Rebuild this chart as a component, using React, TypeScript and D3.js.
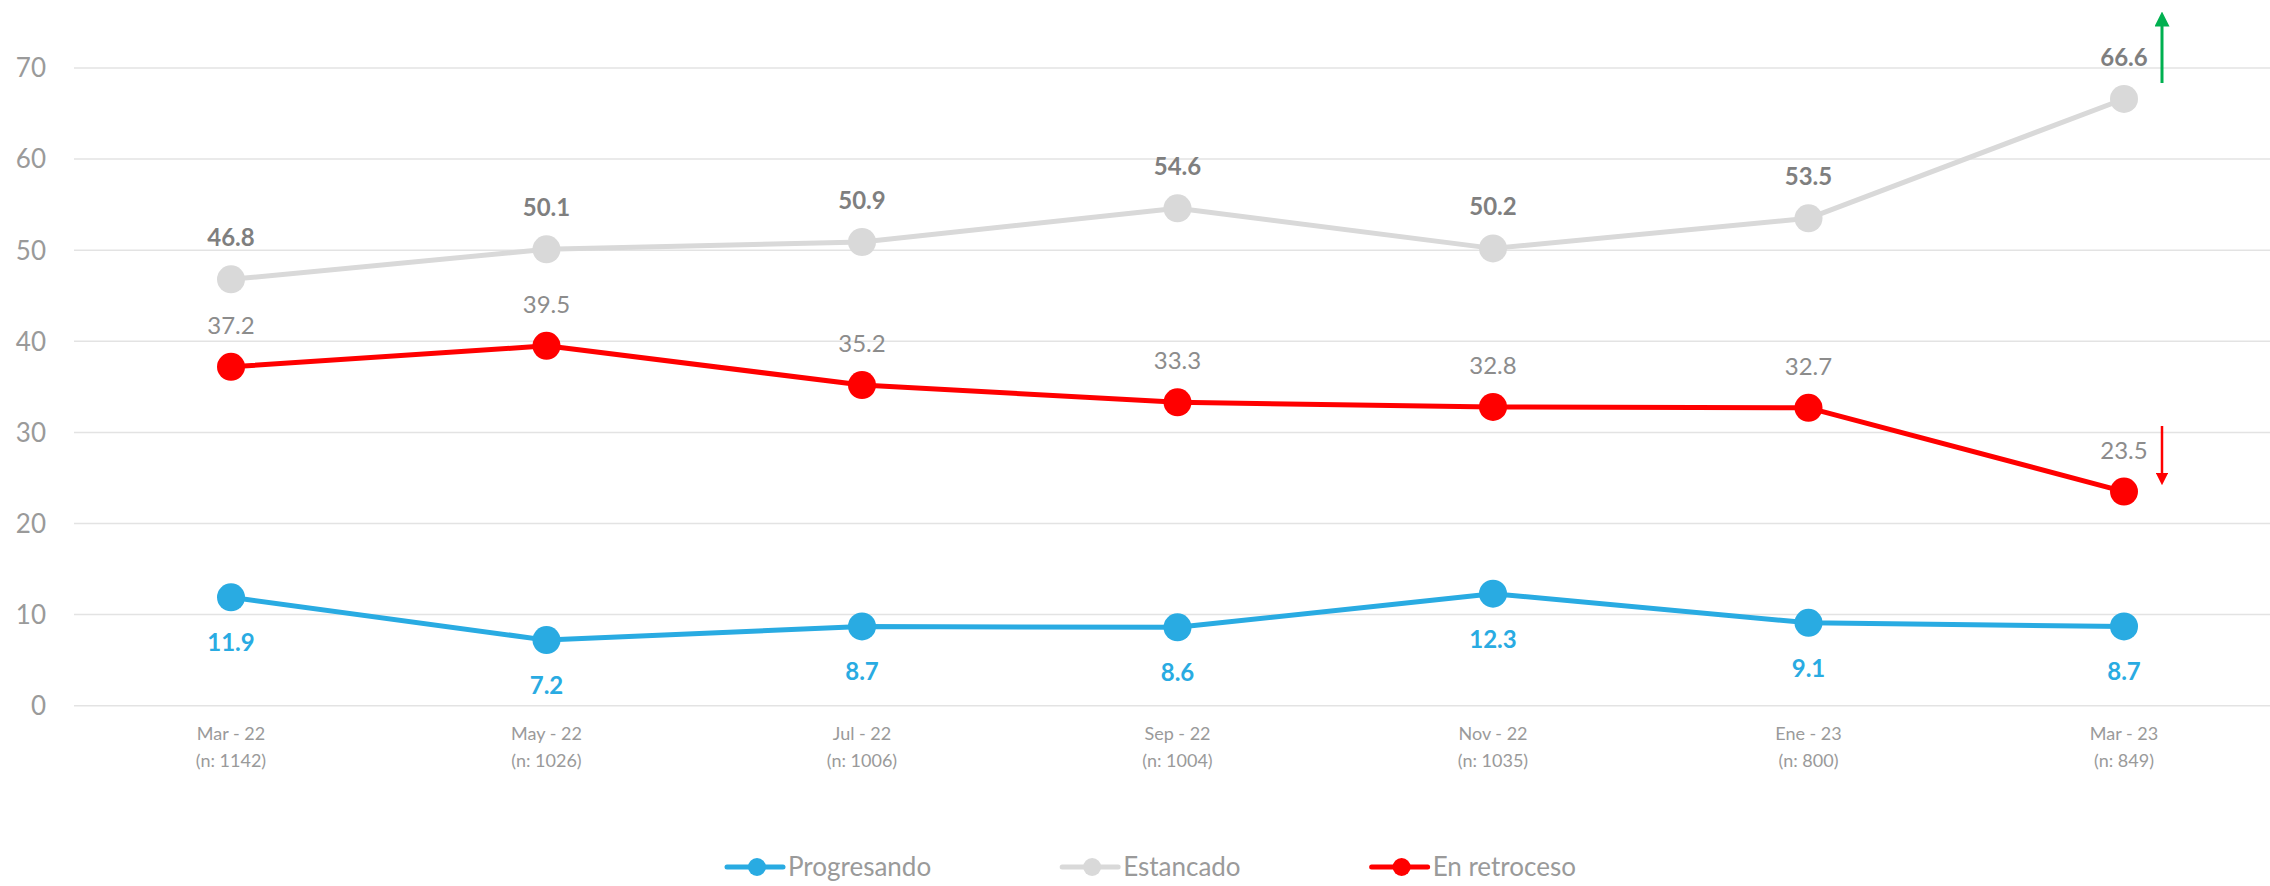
import React, { useEffect, useRef } from "react";
import * as d3 from "d3";

// Categories (two-line tick labels)
const periods = ["Mar - 22", "May - 22", "Jul - 22", "Sep - 22", "Nov - 22", "Ene - 23", "Mar - 23"];
const sampleSizes = ["(n: 1142)", "(n: 1026)", "(n: 1006)", "(n: 1004)", "(n: 1035)", "(n: 800)", "(n: 849)"];

// Series values
const progresando = [11.9, 7.2, 8.7, 8.6, 12.3, 9.1, 8.7];
const estancado = [46.8, 50.1, 50.9, 54.6, 50.2, 53.5, 66.6];
const retroceso = [37.2, 39.5, 35.2, 33.3, 32.8, 32.7, 23.5];

const yTicks = [0, 10, 20, 30, 40, 50, 60, 70];

interface Series {
  name: string;
  values: number[];
  color: string;
  labelColor: string;
  labelWeight: string;
  labelDy: number;
}

const series: Series[] = [
  { name: "Estancado", values: estancado, color: "#D9D9D9", labelColor: "#7F7F7F", labelWeight: "bold", labelDy: -33 },
  { name: "En retroceso", values: retroceso, color: "#FF0000", labelColor: "#8C8C8C", labelWeight: "normal", labelDy: -33 },
  { name: "Progresando", values: progresando, color: "#29ABE2", labelColor: "#29ABE2", labelWeight: "bold", labelDy: 54 },
];

const legendOrder = ["Progresando", "Estancado", "En retroceso"];

const FONT = "Lato, 'Open Sans', sans-serif";

const App: React.FC = () => {
  const svgRef = useRef<SVGSVGElement | null>(null);

  useEffect(() => {
    if (!svgRef.current) return;
    const svg = d3.select(svgRef.current);
    svg.selectAll("*").remove();

    const width = 2270;
    const x = d3
      .scalePoint<string>()
      .domain(periods)
      .range([231, 2124]);
    const y = d3.scaleLinear().domain([0, 70]).range([705.7, 68]);

    // Gridlines
    svg
      .append("g")
      .selectAll("line")
      .data(yTicks)
      .enter()
      .append("line")
      .attr("x1", 74)
      .attr("x2", width)
      .attr("y1", (d) => y(d))
      .attr("y2", (d) => y(d))
      .attr("stroke", "#E3E3E3")
      .attr("stroke-width", 1.5);

    // Y tick labels
    svg
      .append("g")
      .selectAll("text")
      .data(yTicks)
      .enter()
      .append("text")
      .attr("x", 46)
      .attr("y", (d) => y(d))
      .attr("dy", "0.36em")
      .attr("text-anchor", "end")
      .attr("font-family", FONT)
      .attr("font-size", 26)
      .attr("fill", "#9A9A9A")
      .text((d) => d.toString());

    // X tick labels
    const xg = svg.append("g");
    periods.forEach((p, i) => {
      const t = xg
        .append("text")
        .attr("text-anchor", "middle")
        .attr("font-family", FONT)
        .attr("font-size", 18)
        .attr("fill", "#9A9A9A");
      t.append("tspan").attr("x", x(p)!).attr("y", 740).text(p);
      t.append("tspan").attr("x", x(p)!).attr("y", 767).text(sampleSizes[i]);
    });

    // Lines, markers, labels
    series.forEach((s) => {
      const pts = s.values.map((v, i) => ({ p: periods[i], v }));
      const line = d3
        .line<{ p: string; v: number }>()
        .x((d) => x(d.p)!)
        .y((d) => y(d.v));
      const g = svg.append("g");
      g.append("path")
        .datum(pts)
        .attr("fill", "none")
        .attr("stroke", s.color)
        .attr("stroke-width", 5)
        .attr("stroke-linejoin", "round")
        .attr("d", line);
      g.selectAll("circle")
        .data(pts)
        .enter()
        .append("circle")
        .attr("cx", (d) => x(d.p)!)
        .attr("cy", (d) => y(d.v))
        .attr("r", 14)
        .attr("fill", s.color);
      g.selectAll("text")
        .data(pts)
        .enter()
        .append("text")
        .attr("x", (d) => x(d.p)!)
        .attr("y", (d) => y(d.v) + s.labelDy)
        .attr("text-anchor", "middle")
        .attr("font-family", FONT)
        .attr("font-size", 24)
        .attr("font-weight", s.labelWeight)
        .attr("fill", s.labelColor)
        .text((d) => d.v.toFixed(1));
    });

    // Trend arrows at last point
    const defs = svg.append("defs");
    const addHead = (id: string, color: string) =>
      defs
        .append("marker")
        .attr("id", id)
        .attr("viewBox", "0 0 10 10")
        .attr("refX", 5)
        .attr("refY", 5)
        .attr("markerWidth", 5)
        .attr("markerHeight", 5)
        .attr("markerUnits", "strokeWidth")
        .attr("orient", "auto")
        .append("path")
        .attr("d", "M0,0 L10,5 L0,10 Z")
        .attr("fill", color);
    addHead("headGreen", "#00B050");
    addHead("headRed", "#FF0000");
    const ax = x(periods[periods.length - 1])! + 38;
    svg
      .append("line")
      .attr("x1", ax)
      .attr("x2", ax)
      .attr("y1", 83)
      .attr("y2", 19)
      .attr("stroke", "#00B050")
      .attr("stroke-width", 3)
      .attr("marker-end", "url(#headGreen)");
    svg
      .append("line")
      .attr("x1", ax)
      .attr("x2", ax)
      .attr("y1", 426)
      .attr("y2", 479)
      .attr("stroke", "#FF0000")
      .attr("stroke-width", 2.5)
      .attr("marker-end", "url(#headRed)");

    // Legend
    const legend = svg.append("g");
    let lx = 727;
    const ly = 867;
    legendOrder.forEach((name) => {
      const s = series.find((d) => d.name === name)!;
      legend
        .append("line")
        .attr("x1", lx)
        .attr("x2", lx + 56)
        .attr("y1", ly)
        .attr("y2", ly)
        .attr("stroke", s.color)
        .attr("stroke-width", 5)
        .attr("stroke-linecap", "round");
      legend
        .append("circle")
        .attr("cx", lx + 30)
        .attr("cy", ly)
        .attr("r", 9)
        .attr("fill", s.color);
      const t = legend
        .append("text")
        .attr("x", lx + 61)
        .attr("y", ly)
        .attr("dy", "0.36em")
        .attr("font-family", FONT)
        .attr("font-size", 26)
        .attr("fill", "#9A9A9A")
        .text(name);
      const w = (t.node() as SVGTextElement).getComputedTextLength();
      lx += 61 + w + 131;
    });
  }, []);

  return (
    <div style={{ position: "absolute", left: 0, top: 0, width: 2270, height: 886, background: "#fff" }}>
      <svg ref={svgRef} width={2270} height={886} style={{ display: "block" }} />
    </div>
  );
};

export default App;
